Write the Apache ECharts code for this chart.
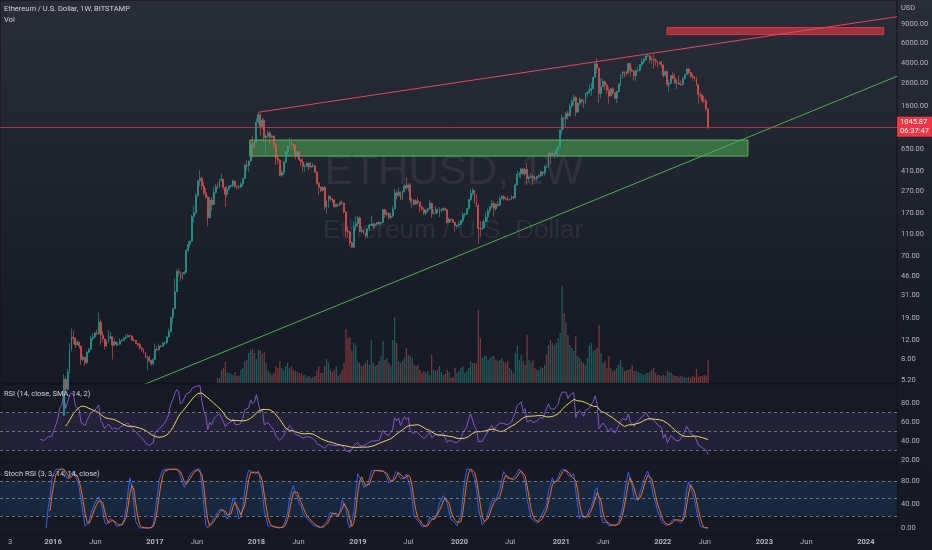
<!DOCTYPE html>
<html><head><meta charset="utf-8">
<script src="https://cdn.jsdelivr.net/npm/echarts@6/dist/echarts.min.js"></script>
<style>html,body{margin:0;padding:0;background:#131722;}#chart{width:932px;height:550px;}</style>
</head><body><div id="chart"></div>
<script>
// ---------- DATA (weekly, first week starts Mon 2015-08-10) ----------
const firstWeekStart = Date.UTC(2015, 7, 10);
const firstOpen = 0.71;
const closes = [
// 2015
1.19,1.38,1.33,1.25, 0.90,0.91,0.82,0.69, 0.62,0.55,0.50,0.95, 1.03,0.93,0.90,0.87,0.86, 0.83,0.94,0.88,0.95,
// 2016
0.95,1.29,1.55,2.25, 2.48,5.30,4.30,6.10,10.0, 12.8,12.5,10.9,11.5, 10.6,8.0,8.4,7.5, 9.3,9.9,12.5,12.8,13.9, 13.7,17.5,13.3,12.3, 10.6,11.5,12.6,12.9, 10.8,11.6,11.0,11.0,11.8, 11.9,12.5,12.8,13.2, 13.1,12.0,11.9,11.2,10.9, 10.2,9.9,9.3,8.4, 8.4,7.8,7.3,8.0,
// 2017
9.9,9.8,10.6,10.5,11.3, 11.4,12.8,14.4,19.3, 23.1,33.0,50.5,49.5, 43.5,48.0,49.5,79.0, 89,95,160,172,247, 338,356,303,262, 240,155,226,205,265, 300,298,345,350, 294,254,283,302, 308,337,300,296,297, 315,354,470,465, 510,720,690,756,
// 2018
1150,1350,1050,1200,830, 860,920,840,865, 720,540,520,380, 400,500,620,690,790, 730,715,570,620, 525,500,455,455, 490,450,460,465,405, 320,295,275,295, 195,220,245,232, 226,197,205,204,215, 212,176,118,115, 92,84,130,138,155,
// 2019
117,119,113,107, 124,133,137,132, 136,141,137,141, 185,167,170,157,161, 187,262,248,268, 230,270,305,290, 310,225,225,207,222, 215,196,187,172, 181,189,211,170,170, 186,175,182,182, 189,184,141,151, 150,141,132,134,136,
// 2020
146,166,168,189, 228,260,275,218, 200,124,123,125,143, 158,180,197,210, 188,207,202,231, 244,233,229,228,228, 241,237,310,386, 390,433,392,428,353, 365,372,356,352, 370,378,406,396, 453,447,605,575,600, 590,640,685,975,
// 2021
1260,1250,1390,1315, 1610,1800,1935,1420, 1720,1860,1785,1700,2080, 2140,2240,2320,2945, 3910,3580,2100,2430,2710, 2510,2250,1990,2320, 2140,1900,2190,2560, 3010,3310,3240,3230,3950, 3410,3330,3060,3390, 3410,3850,4080,4290, 4610,4630,4270,4280,4200, 4080,3920,4060,3830,
// 2022
3080,3330,2540,2600,3050, 2880,2620,2620,2550, 2520,2860,3140,3520, 3260,2990,2920,2830, 2520,2060,2045,1810,1805, 1530,1045.87
];
const highs = [
1.45,1.65,1.45,1.40, 1.30,1.05,0.98,0.85, 0.72,0.68,0.60,1.10, 1.12,1.06,0.97,0.93,0.92, 0.90,0.99,0.97,0.99,
0.99,1.40,1.60,2.50, 2.75,5.90,5.60,6.60,11.2, 15.3,14.5,12.8,12.0, 11.6,10.7,8.9,8.5, 9.6,10.2,13.2,13.8,14.3, 15.0,21.5,18.5,14.5, 12.4,12.0,14.9,14.2, 13.0,12.4,11.6,11.5,12.4, 12.3,12.8,13.5,13.7, 13.4,13.2,12.3,12.0,11.3, 11.3,10.3,10.0,9.4, 8.7,8.6,8.0,8.3,
11.2,10.6,11.1,10.8,11.6, 11.7,13.2,15.3,19.6, 23.7,44.0,53.0,53.5, 50.5,50.0,51.0,80.0, 96,97,165,200,260, 340,420,370,330, 290,245,240,240,300, 315,330,350,395, 350,300,300,305, 310,345,340,305,310, 330,355,480,520, 515,730,870,760,
1250,1420,1390,1250,1230, 890,975,940,880, 870,730,580,530, 420,510,630,710,830, 790,740,720,630, 630,530,540,480, 500,490,500,490,470, 410,330,300,300, 300,225,250,245, 235,230,210,208,218, 225,213,180,130, 118,94,145,160,162,
160,130,122,113, 126,136,163,140, 140,142,146,143, 187,185,180,175,174, 200,285,275,290, 270,275,315,362, 320,320,235,230,230, 240,215,200,190, 185,190,225,215,185, 200,190,195,190, 196,190,186,156, 152,152,142,134,145,
150,175,172,190, 230,285,290,280, 255,210,145,145,150, 175,190,200,225, 220,210,220,245, 250,250,240,245,230, 250,245,320,415, 405,440,440,445,490, 380,395,385,375, 375,390,420,415, 470,475,615,625,635, 600,665,690,980,
1350,1290,1440,1470, 1700,1870,2040,1980, 1720,1950,1870,1830,2150, 2200,2550,2640,2980, 3980,4380,3600,2900,2900, 2750,2600,2400,2350, 2400,2150,2250,2650, 3180,3340,3330,3380,3960, 4030,3640,3440,3480, 3650,3900,4380,4460, 4670,4870,4650,4480,4780, 4380,4100,4120,4130,
3830,3420,3370,2800,3070, 3280,3200,2830,3050, 2750,2970,3170,3580, 3560,3310,3190,3030, 3000,2530,2160,2050,2000, 1920,1530
];
const lows = [
0.65,1.10,1.10,1.15, 0.85,0.82,0.78,0.65, 0.58,0.50,0.42,0.50, 0.88,0.88,0.85,0.84,0.82, 0.80,0.81,0.84,0.85,
0.93,0.94,1.25,1.50, 2.20,2.45,4.00,4.20,6.0, 9.5,11.0,10.2,10.8, 10.0,7.2,7.7,7.0, 7.2,9.1,9.8,11.9,12.4, 13.3,13.6,10.9,11.6, 9.9,10.4,11.4,12.2, 8.0,10.6,10.5,10.7,10.9, 11.6,11.8,12.4,12.8, 12.6,11.8,11.6,11.0,10.5, 9.8,9.4,9.0,8.2, 6.4,7.6,7.0,7.1,
8.0,9.5,9.7,10.3,10.5, 10.9,11.0,12.6,14.2, 17.0,23.0,33.0,46.0, 41.5,42.5,47.0,49.0, 76,84,94,142,168, 240,300,280,250, 230,130,155,180,205, 260,285,290,330, 280,195,240,275, 290,295,290,280,285, 290,300,350,420, 410,520,550,660,
740,1100,870,990,760, 570,830,730,820, 670,470,480,370, 365,380,490,580,670, 650,650,530,550, 510,460,410,410, 450,420,440,445,400, 310,250,265,270, 185,170,190,220, 215,190,195,196,197, 205,170,105,102, 86,82,83,120,130,
115,113,110,101, 102,118,132,124, 125,130,134,132, 140,156,160,150,152, 156,185,230,240, 225,226,262,280, 270,210,190,202,205, 205,175,180,165, 165,175,185,155,165, 170,170,158,175, 178,180,138,140, 141,140,116,124,126,
133,140,155,165, 185,220,245,210, 195,90,105,120,125, 150,145,170,190, 160,180,195,200, 230,222,225,220,222, 230,228,233,305, 360,355,380,370,310, 330,355,310,335, 335,360,365,370, 375,440,445,480,560, 540,580,550,680,
890,1000,1030,1220, 1300,1560,1640,1300, 1430,1650,1710,1560,1700, 1930,2060,2000,2280, 2940,3200,1730,1880,2400, 2300,2080,1700,1960, 2040,1860,1720,2150, 2460,2860,2960,3040,3140, 3000,3290,2760,2740, 3300,3350,3690,3900, 4150,4530,3950,3920,3520, 3790,3640,3860,3610,
2930,3000,2420,2160,2580, 2850,2580,2300,2510, 2450,2500,2850,3130, 3150,2950,2850,2720, 2480,1700,1910,1720,1740, 1440,1000
];
// Volume (relative units), Bitstamp series starts with week index 105 (Aug 2017)
const volumeStartIndex = 105;
const volumes = [
5,5,12,15,21,10,10,9,8,11, 7,7,13,15,22,23,30,33,34,30, 24,33,33,29,31,20,12,10,8,10, 17,15,22,15,12,17,20,15,17,13,
12,11,10,10,8,8,6,7,5,6, 7,12,17,10,10,17,24,20,13,11, 13,17,7,9,13,20,54,45,46,32, 40,38,22,20,17,18,20,23,18,43,
20,17,18,22,27,42,23,25,20,17, 43,66,40,22,20,22,25,35,28,27, 25,18,17,18,13,10,12,10,12,8, 28,13,12,13,17,11,8,9,13,11,
5,6,15,10,12,15,17,
10,12,15,22,20,20,20,73,45, 25,27,27,23,25,27,27,23,22,23, 25,22,20,22,15,13,10,30,38,23, 28,22,18,48,23,20,23,15,13,13,
16,15,18,28,38,43,40,38,40,45, 50,97,70,60,48,38,35,32,47,27, 25,22,20,18,25,38,40,32,33,35, 58,30,20,22,15,27,15,12,13,15,
18,23,16,12,13,13,14,18,12,12, 11,10,9,8,10,10,11,13,15,10, 8,8,7,8,7,12,11,10,8,7, 7,6,7,6,6,5,6,5,7,6, 14,6,7,7,8,7,23
];
// Drawings
const resistanceLine = [[Date.UTC(2018,0,8), 1420], [Date.UTC(2024,3,22), 10500]];
const supportLine = [[Date.UTC(2016,5,18), 3.25], [Date.UTC(2024,3,22), 3017]];
const demandZone = { from: Date.UTC(2017,11,8), to: Date.UTC(2022,10,3), top: 793, bottom: 567 };
const supplyZone = { from: Date.UTC(2022,0,16), to: Date.UTC(2024,2,5), top: 8360, bottom: 7220 };
const lastTime = '06:37:47';
// Axis ticks
const priceTicks = [5.2, 8, 12, 19, 31, 46, 70, 110, 170, 270, 410, 650, 1600, 2600, 4000, 6000, 9000];
const rsiTicks = [20, 40, 60, 80];
const stochTicks = [0, 40, 80];
const timeTickDates = [[2015,6,30],[2016,0,1],[2016,5,1],[2017,0,1],[2017,5,1],[2018,0,1],[2018,5,1],[2019,0,1],[2019,6,1],[2020,0,1],[2020,6,1],[2021,0,1],[2021,5,1],[2022,0,1],[2022,5,1],[2023,0,1],[2023,5,1],[2024,0,1]];
const timeTickLabels = ['3','2016','Jun','2017','Jun','2018','Jun','2019','Jul','2020','Jul','2021','Jun','2022','Jun','2023','Jun','2024'];

// ---------- DERIVED ----------
const WEEK = 7*86400000;
const weeks = closes.map((_, i) => firstWeekStart + i*WEEK);
const opens = closes.map((c, i) => i === 0 ? firstOpen : closes[i-1]);
const UP = '#26a69a', DOWN = '#ef5350';
const candleData = closes.map((c, i) => {
  const col = c >= opens[i] ? UP : DOWN;
  return { value: [weeks[i], opens[i], c, lows[i], highs[i]],
    itemStyle: { color: col, color0: col, borderColor: col, borderColor0: col, borderColorDoji: col } };
});
const volData = volumes.map((v, j) => {
  const i = j + volumeStartIndex;
  return { value: [weeks[i], v], itemStyle: { color: closes[i] >= opens[i] ? 'rgba(38,166,154,0.5)' : 'rgba(239,83,80,0.5)' } };
});
function rsi(src, len) {
  const out = src.map(() => null); let au = 0, ad = 0;
  for (let i = 1; i < src.length; i++) {
    const ch = src[i] - src[i-1]; const u = ch > 0 ? ch : 0, d = ch < 0 ? -ch : 0;
    if (i < len) { au += u; ad += d; continue; }
    if (i === len) { au = (au + u)/len; ad = (ad + d)/len; }
    else { au = (au*(len-1) + u)/len; ad = (ad*(len-1) + d)/len; }
    out[i] = ad === 0 ? 100 : 100 - 100/(1 + au/ad);
  }
  return out;
}
function sma(src, len) {
  return src.map((_, i) => { if (i < len-1) return null; let s = 0;
    for (let j = i-len+1; j <= i; j++) { if (src[j] == null) return null; s += src[j]; } return s/len; });
}
function stoch(src, len) {
  return src.map((v, i) => { if (v == null) return null; let lo = Infinity, hi = -Infinity;
    for (let j = Math.max(0, i-len+1); j <= i; j++) { if (src[j] == null) continue; lo = Math.min(lo, src[j]); hi = Math.max(hi, src[j]); }
    return hi > lo ? 100*(v-lo)/(hi-lo) : null; });
}
const rsiVals = rsi(closes, 14);
const rsiMa = sma(rsiVals, 14);
const kVals = sma(stoch(rsiVals, 14), 3);
const dVals = sma(kVals, 3);
const pair = arr => weeks.map((t, i) => [t, arr[i]]);
const timeTicks = timeTickDates.map(d => Date.UTC(d[0], d[1], d[2]));
function timeLabel(v) {
  for (let i = 0; i < timeTicks.length; i++) if (Math.abs(timeTicks[i] - v) < 86400000) {
    const s = timeTickLabels[i]; return /^\d{4}$/.test(s) ? '{y|' + s + '}' : s; }
  return '';
}

// ---------- CHART ----------
const FONT = 'Roboto, "Noto Sans", sans-serif';
const LBL = '#b2b5be';
const xMin = Date.UTC(2015,5,24), xMax = Date.UTC(2024,3,22);
const grids = [
  { left: 0, right: 35, top: 0, height: 383 },
  { left: 0, right: 35, top: 283, height: 100 },
  { left: 0, right: 35, top: 384, height: 78 },
  { left: 0, right: 35, top: 463, height: 72 }
];
grids.forEach(g => { g.show = true; g.borderColor = '#10131b'; g.borderWidth = 1; g.backgroundColor = 'transparent'; });
grids[1].show = false;
function xAx(gi, labels) {
  return { type: 'value', gridIndex: gi, min: xMin, max: xMax, scale: true,
    axisLine: { show: false }, axisTick: { show: false }, splitLine: { show: false },
    axisLabel: labels ? { show: true, customValues: timeTicks, formatter: timeLabel, color: LBL, fontSize: 7.5, fontFamily: FONT, margin: 3,
      rich: { y: { fontWeight: 'bold', color: LBL, fontSize: 7.5, fontFamily: FONT } } } : { show: false } };
}
function yLabel(fmt, ticks) {
  return { show: true, customValues: ticks, formatter: fmt, color: LBL, fontSize: 7.5, fontFamily: FONT, margin: 4, align: 'left' };
}
const titleStyle = { color: '#d1d4dc', fontSize: 7.5, fontWeight: 'normal', fontFamily: FONT };
const priceLineColor = 'rgba(242,54,69,0.7)';
const option = {
  animation: false,
  backgroundColor: { type: 'linear', x: 0, y: 0, x2: 0, y2: 1, colorStops: [
    { offset: 0, color: '#292d38' }, { offset: 0.6, color: '#171b26' }, { offset: 1, color: '#161924' } ] },
  title: [
    { text: 'ETHUSD, 1W', left: 449, top: 146, textAlign: 'center', z: 0, textStyle: { color: 'rgba(200,203,212,0.09)', fontSize: 42, fontWeight: 'normal', fontFamily: 'Liberation Sans, Arial, sans-serif' } },
    { text: 'Ethereum / U.S. Dollar', left: 448, top: 213, textAlign: 'center', z: 0, textStyle: { color: 'rgba(200,203,212,0.09)', fontSize: 26, fontWeight: 'normal', fontFamily: 'Liberation Sans, Arial, sans-serif' } },
    { text: 'Ethereum / U.S. Dollar, 1W, BITSTAMP', left: 0, top: 0, padding: [5,4], textStyle: titleStyle },
    { text: 'Vol', left: 0, top: 11, padding: [5,4], textStyle: titleStyle },
    { text: 'USD', left: 897, top: 0, padding: [4,4], textStyle: { ...titleStyle, color: LBL } },
    { text: 'RSI (14, close, SMA, 14, 2)', left: 0, top: 385, padding: [5,4], textStyle: titleStyle },
    { text: 'Stoch RSI (3, 3, 14, 14, close)', left: 0, top: 465, padding: [5,4], textStyle: titleStyle }
  ],
  grid: grids,
  xAxis: [xAx(0, false), xAx(1, false), xAx(2, false), xAx(3, true)],
  yAxis: [
    { type: 'log', logBase: 10, gridIndex: 0, position: 'right', min: 4.89, max: 14900,
      axisLine: { show: false }, axisTick: { show: false }, splitLine: { show: false },
      axisLabel: yLabel(v => Number(v).toFixed(2), priceTicks) },
    { type: 'value', gridIndex: 1, min: 0, max: 100, show: false, splitLine: { show: false } },
    { type: 'value', gridIndex: 2, position: 'right', min: 18, max: 100,
      axisLine: { show: false }, axisTick: { show: false }, splitLine: { show: false },
      axisLabel: yLabel(v => Number(v).toFixed(2), rsiTicks) },
    { type: 'value', gridIndex: 3, position: 'right', min: -12, max: 110.6,
      axisLine: { show: false }, axisTick: { show: false }, splitLine: { show: false },
      axisLabel: yLabel(v => Number(v).toFixed(2), stochTicks) }
  ],
  series: [
    { type: 'bar', xAxisIndex: 1, yAxisIndex: 1, data: volData, barWidth: 1.2, silent: true, z: 1 },
    { type: 'candlestick', xAxisIndex: 0, yAxisIndex: 0, data: candleData, encode: { x: 0, y: [1,2,3,4] },
      barWidth: 1.4, silent: true, z: 3, large: false,
      itemStyle: { color: UP, color0: DOWN, borderColor: UP, borderColor0: DOWN, borderColorDoji: UP, borderWidth: 0.6 },
      markArea: { silent: true, data: [
        [ { xAxis: demandZone.from, yAxis: demandZone.top, itemStyle: { color: 'rgba(76,175,80,0.55)', borderColor: 'rgba(102,187,106,0.9)', borderWidth: 1 } },
          { xAxis: demandZone.to, yAxis: demandZone.bottom } ],
        [ { xAxis: supplyZone.from, yAxis: supplyZone.top, itemStyle: { color: 'rgba(242,54,69,0.6)', borderColor: 'rgba(242,54,69,0.9)', borderWidth: 1 } },
          { xAxis: supplyZone.to, yAxis: supplyZone.bottom } ]
      ] },
      markLine: { silent: true, symbol: 'none', animation: false,
        lineStyle: { color: priceLineColor, width: 1, type: 'solid', opacity: 1 },
        data: [ { yAxis: closes[closes.length-1], lineStyle: { color: priceLineColor, width: 1, type: 'solid' },
          label: { show: true, position: 'end', distance: 0, formatter: closes[closes.length-1].toFixed(2) + '\n' + lastTime,
            backgroundColor: '#f23645', color: '#ffffff', fontSize: 7.5, lineHeight: 9, fontFamily: FONT, padding: [1,3,1,3] } } ] } },
    { type: 'line', xAxisIndex: 0, yAxisIndex: 0, data: resistanceLine, symbol: 'none', silent: true, z: 4,
      lineStyle: { color: '#e0485e', width: 1 } },
    { type: 'line', xAxisIndex: 0, yAxisIndex: 0, data: supportLine, symbol: 'none', silent: true, z: 4,
      lineStyle: { color: '#4caf50', width: 1 } },
    { type: 'line', xAxisIndex: 2, yAxisIndex: 2, data: pair(rsiVals), symbol: 'none', silent: true,
      lineStyle: { color: '#7e57c2', width: 1 },
      markArea: { silent: true, itemStyle: { color: 'rgba(126,87,194,0.12)' }, data: [[ { yAxis: 70 }, { yAxis: 30 } ]] },
      markLine: { silent: true, symbol: 'none', label: { show: false },
        lineStyle: { color: 'rgba(140,143,154,0.75)', width: 1, type: [3,3] },
        data: [ { yAxis: 70 }, { yAxis: 50 }, { yAxis: 30 } ] } },
    { type: 'line', xAxisIndex: 2, yAxisIndex: 2, data: pair(rsiMa), symbol: 'none', silent: true,
      lineStyle: { color: '#e8d75c', width: 1 } },
    { type: 'line', xAxisIndex: 3, yAxisIndex: 3, data: pair(kVals), symbol: 'none', silent: true,
      lineStyle: { color: '#2962ff', width: 1 },
      markArea: { silent: true, itemStyle: { color: 'rgba(33,150,243,0.13)' }, data: [[ { yAxis: 80 }, { yAxis: 20 } ]] },
      markLine: { silent: true, symbol: 'none', label: { show: false },
        lineStyle: { color: 'rgba(140,143,154,0.75)', width: 1, type: [3,3] },
        data: [ { yAxis: 80 }, { yAxis: 50 }, { yAxis: 20 } ] } },
    { type: 'line', xAxisIndex: 3, yAxisIndex: 3, data: pair(dVals), symbol: 'none', silent: true,
      lineStyle: { color: '#ff6d00', width: 1 } }
  ]
};
const chart = echarts.init(document.getElementById('chart'), null, { renderer: 'canvas' });
chart.setOption(option);
</script></body></html>
